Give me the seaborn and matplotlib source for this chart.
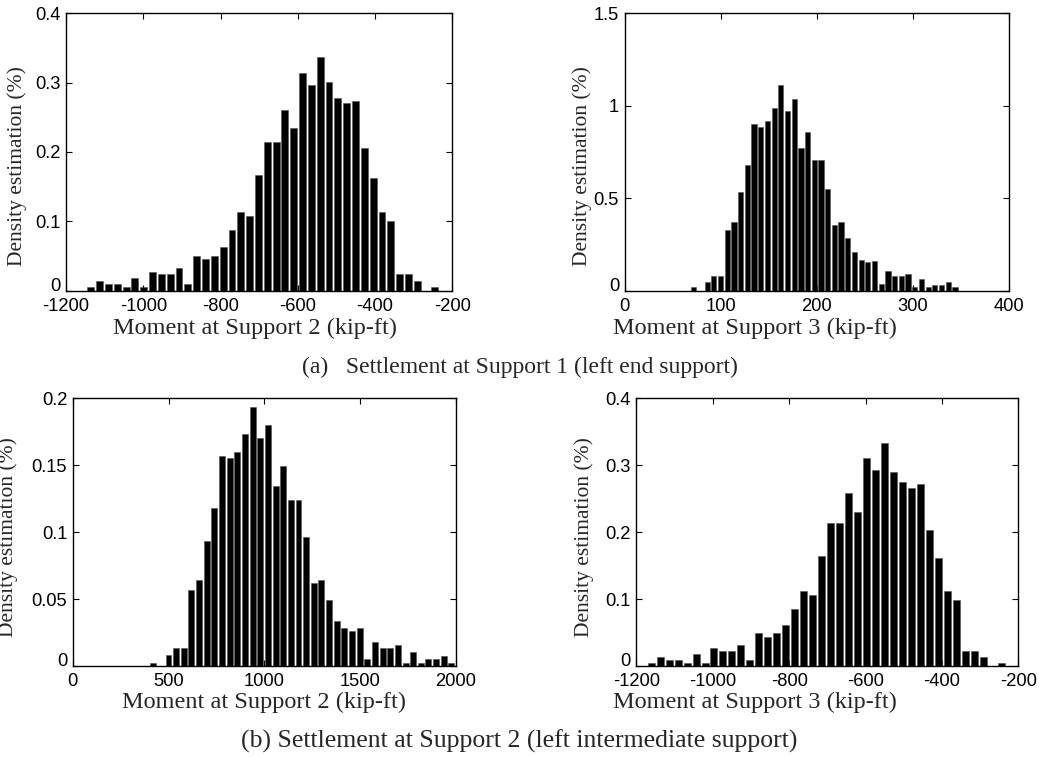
import numpy as np
import pandas as pd
import matplotlib
matplotlib.use("Agg")
import matplotlib.pyplot as plt
import seaborn as sns

# (a) settlement at support 1 - moment at support 2
a2_first, a2_last = -1136, -245
a2_heights = [0.005, 0.014, 0.009, 0.009, 0.005, 0.018, 0.005, 0.027, 0.024, 0.024,
              0.033, 0.009, 0.050, 0.046, 0.050, 0.063, 0.087, 0.113, 0.108, 0.167,
              0.215, 0.215, 0.261, 0.234, 0.314, 0.297, 0.337, 0.301, 0.278, 0.270,
              0.274, 0.206, 0.162, 0.113, 0.100, 0.024, 0.024, 0.014, 0.0, 0.005]

# (a) settlement at support 1 - moment at support 3
a3_first, a3_last = 72, 344
a3_heights = [0.018, 0.0, 0.047, 0.078, 0.078, 0.330, 0.372, 0.534, 0.680, 0.903,
              0.886, 0.915, 0.987, 1.110, 0.973, 1.038, 0.769, 0.857, 0.708, 0.709,
              0.549, 0.356, 0.372, 0.283, 0.209, 0.166, 0.155, 0.161, 0.034, 0.105,
              0.078, 0.078, 0.092, 0.018, 0.061, 0.018, 0.032, 0.032, 0.047, 0.018]

# (b) settlement at support 2 - moment at support 2
b2_first, b2_last = 420, 1976
b2_heights = [0.0025, 0.0, 0.008, 0.0136, 0.0136, 0.057, 0.064, 0.093, 0.118, 0.157,
              0.155, 0.160, 0.173, 0.193, 0.170, 0.180, 0.134, 0.149, 0.124, 0.124,
              0.096, 0.062, 0.064, 0.049, 0.0335, 0.0285, 0.026, 0.0285, 0.005, 0.0176,
              0.0136, 0.0136, 0.0156, 0.0025, 0.0104, 0.0025, 0.005, 0.005, 0.0077, 0.0025]

# (b) settlement at support 2 - moment at support 3
b3_first, b3_last = -1161, -245
b3_heights = [0.005, 0.0135, 0.009, 0.009, 0.005, 0.0185, 0.005, 0.027, 0.0225, 0.0225,
              0.031, 0.009, 0.0495, 0.044, 0.0495, 0.0615, 0.085, 0.112, 0.1065, 0.1645,
              0.213, 0.213, 0.2575, 0.2305, 0.3105, 0.293, 0.3335, 0.289, 0.275, 0.2655,
              0.271, 0.2035, 0.1605, 0.1125, 0.099, 0.0225, 0.0225, 0.0135, 0.0, 0.005]

xlabels = ["Moment at Support 2 (kip-ft)", "Moment at Support 3 (kip-ft)"]
ylabel = "Density estimation (%)"
captions = ["(a)   Settlement at Support 1 (left end support)",
            "(b) Settlement at Support 2 (left intermediate support)"]

sns.set_style("ticks")
plt.rcParams['font.family'] = ['Liberation Sans', 'DejaVu Sans']
plt.rcParams['axes.unicode_minus'] = False
serif = ['Liberation Serif', 'DejaVu Serif']

fig = plt.figure(figsize=(10.39, 7.57), dpi=100)

panels = [
    # heights, first, last, xlim, xstep, yticks, axes rect, xlabel, xlab_x, ylab_x, ylab_y
    (a2_heights, a2_first, a2_last, (-1200, -200), 200, [0, 0.1, 0.2, 0.3, 0.4],
     [0.0636, 0.616, 0.3717, 0.3665], xlabels[0], 0.49, -0.127, 0.45),
    (a3_heights, a3_first, a3_last, (0, 400), 100, [0, 0.5, 1, 1.5],
     [0.6012, 0.616, 0.3696, 0.3665], xlabels[1], 0.34, -0.110, 0.45),
    (b2_heights, b2_first, b2_last, (0, 2000), 500, [0, 0.05, 0.1, 0.15, 0.2],
     [0.0700, 0.1202, 0.3689, 0.354], xlabels[0], 0.50, -0.168, 0.48),
    (b3_heights, b3_first, b3_last, (-1200, -200), 200, [0, 0.1, 0.2, 0.3, 0.4],
     [0.6124, 0.1202, 0.3677, 0.354], xlabels[1], 0.31, -0.137, 0.48),
]

for heights, first, last, xlim, xstep, yticks, rect, xlab, xlab_x, ylab_x, ylab_y in panels:
    ax = fig.add_axes(rect)
    n = len(heights)
    width = (last - first) / (n - 1)
    centers = first + width * np.arange(n)
    edges = np.append(centers - width / 2, centers[-1] + width / 2).tolist()
    df = pd.DataFrame({"moment": centers, "density": heights})
    sns.histplot(data=df, x="moment", weights="density", bins=edges, shrink=0.78,
                 color='black', alpha=1, edgecolor='#555555', linewidth=0.4, ax=ax)
    ax.set_xlim(*xlim)
    ax.set_ylim(yticks[0], yticks[-1])
    ax.set_xticks(np.arange(xlim[0], xlim[1] + 1, xstep))
    ax.set_yticks(yticks)
    ax.yaxis.set_major_formatter(matplotlib.ticker.FuncFormatter(lambda v, p: f'{v:g}'))
    ax.tick_params(direction='in', length=4, width=0.8, labelsize=13.2,
                   top=True, right=True, colors='black')
    ax.tick_params(axis='x', pad=5)
    ax.tick_params(axis='y', pad=4)
    # the corner "0" sits just above the x axis line, as in the original
    ax.get_yticklabels()[0].set_va('baseline')
    for s in ax.spines.values():
        s.set_visible(True)
        s.set_linewidth(1.0)
        s.set_color('black')
    ax.set_xlabel(xlab, family=serif, fontsize=17.5, va='baseline')
    ax.xaxis.set_label_coords(xlab_x, -0.155)
    ax.set_ylabel(ylabel, family=serif, fontsize=15.5, va='center')
    ax.yaxis.set_label_coords(ylab_x, ylab_y)

fig.text(0.5, 1 - 373 / 757, captions[0], family=serif, fontsize=17,
         ha='center', va='baseline')
fig.text(0.5, 1 - 748 / 757, captions[1], family=serif, fontsize=18.5,
         ha='center', va='baseline')

fig.savefig("out.png", dpi=100)
